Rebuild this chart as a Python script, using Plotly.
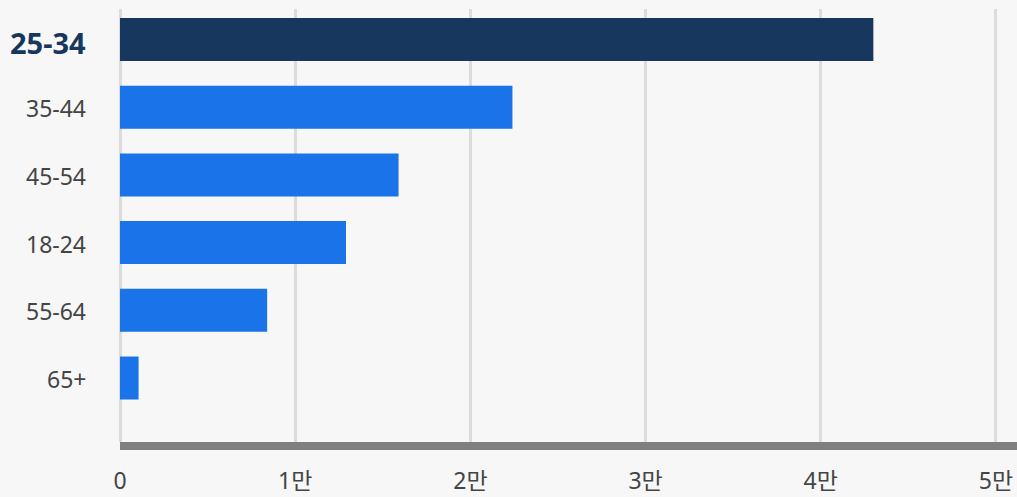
import plotly.graph_objects as go

categories = ["25-34", "35-44", "45-54", "18-24", "55-64", "65+"]
values = [43000, 22400, 15900, 12900, 8400, 1060]
tick_vals = [0, 10000, 20000, 30000, 40000, 50000]
tick_text = ["0", "1만", "2만", "3만", "4만", "5만"]

HILITE = "#17375e"
BASE = "#1a73e8"
top_idx = values.index(max(values))
colors = [HILITE if i == top_idx else BASE for i in range(len(values))]

fig = go.Figure(
    go.Bar(
        x=values,
        y=list(range(len(categories))),
        orientation="h",
        marker=dict(color=colors, line=dict(width=0)),
        width=0.635,
        hoverinfo="x+y",
    )
)

for i, c in enumerate(categories):
    hi = i == top_idx
    fig.add_annotation(
        xref="paper", yref="y", x=0, y=i,
        xanchor="right", yanchor="middle",
        xshift=-32, yshift=-3 if hi else -1,
        text=f"<b>{c}</b>" if hi else c,
        showarrow=False,
        font=dict(size=29 if hi else 23, color=HILITE if hi else "#444444"),
    )

fig.update_layout(
    width=1017,
    height=497,
    margin=dict(l=120, r=0, t=9, b=55),
    paper_bgcolor="#f7f7f7",
    plot_bgcolor="#f7f7f7",
    font=dict(family="Noto Sans, Noto Sans CJK KR, sans-serif", size=23, color="#444444"),
    showlegend=False,
)

fig.update_xaxes(
    automargin=False,
    range=[0, 51200],
    tickvals=tick_vals,
    ticktext=tick_text,
    showgrid=True,
    gridcolor="#dcdcdc",
    gridwidth=2.5,
    zeroline=True,
    zerolinecolor="#dcdcdc",
    zerolinewidth=2.5,
    showline=True,
    linecolor="#808080",
    linewidth=8,
    ticks="",
    ticklabelstandoff=11,
    tickfont=dict(size=23, color="#444444"),
)

fig.update_yaxes(
    automargin=False,
    range=[5.945, -0.45],
    showticklabels=False,
    showgrid=False,
    zeroline=False,
    ticks="",
)

fig.write_html(
    "out.html",
    config={"displayModeBar": False},
    post_script="document.body.style.margin='0';document.body.style.background='#f7f7f7';",
)
